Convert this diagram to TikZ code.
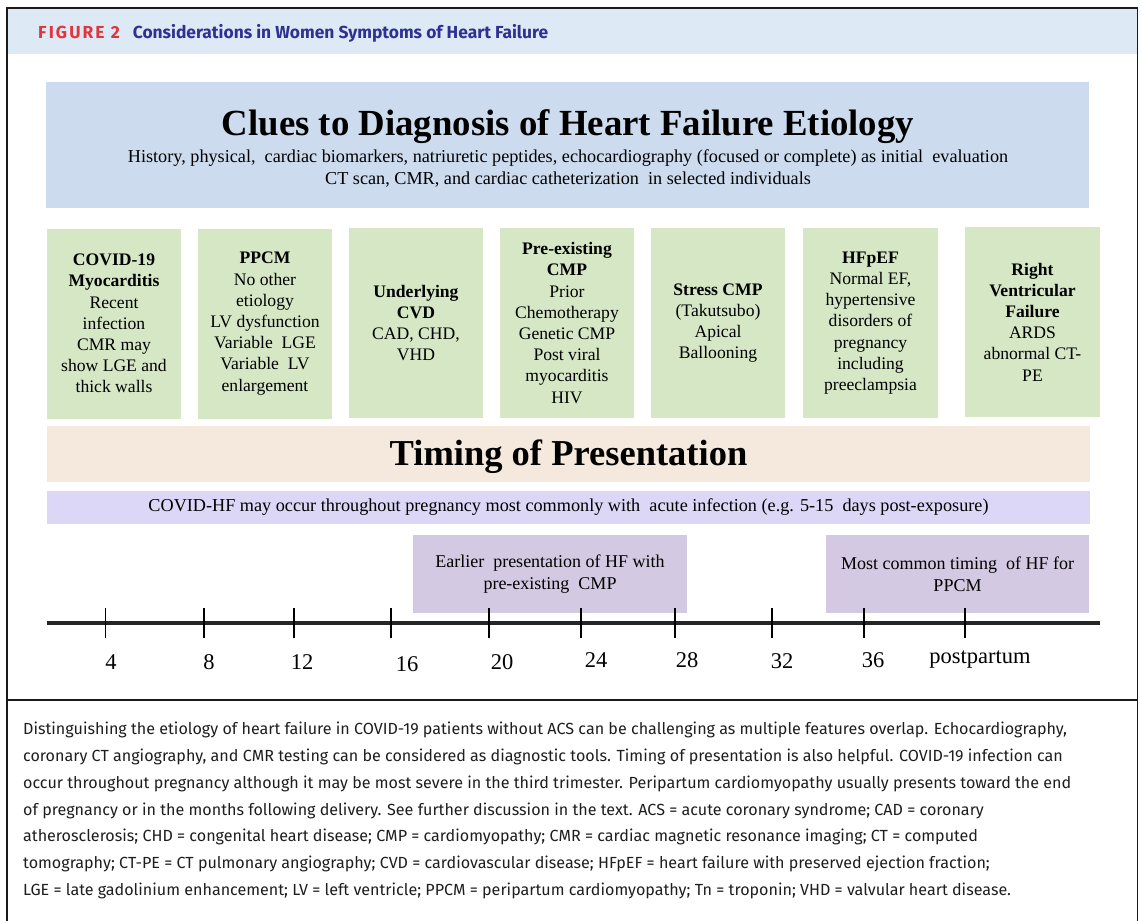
\documentclass[tikz,border=0pt]{standalone}
\usepackage{fontspec}
\setmainfont{Liberation Serif}
\newfontfamily\hdrfont{Fira Sans}
\newfontfamily\capfont{Fira Sans}
\definecolor{hdrblue}{HTML}{DDE9F5}
\definecolor{figred}{HTML}{E2343C}
\definecolor{figblue}{HTML}{2E3192}
\definecolor{cluesblue}{HTML}{CDDBEF}
\definecolor{boxgreen}{HTML}{D5E7C4}
\definecolor{peach}{HTML}{F5E8DC}
\definecolor{lavband}{HTML}{DCD6F7}
\definecolor{lavbox}{HTML}{D3C9E2}
\definecolor{framecol}{HTML}{1A1A1A}
\definecolor{captext}{HTML}{1E1E1E}
\tikzset{
  greenbox/.style={fill=boxgreen, inner sep=0pt, minimum width=134pt, minimum height=190pt, align=center, font=\fontsize{17.6}{21.2}\selectfont},
  lavnode/.style={fill=lavbox, inner sep=0pt, align=center, font=\fontsize{18}{22}\selectfont},
  tick/.style={line width=1.3pt, black},
  ticklabel/.style={font=\fontsize{22.5}{26}\selectfont, inner sep=0pt},
}
\begin{document}
\begin{tikzpicture}[x=1pt,y=-1pt]
\useasboundingbox (0,0) rectangle (1141,921);
\fill[white] (0,0) rectangle (1141,921);
% header band and frame
\fill[hdrblue] (8,9) rectangle (1137,54);
\draw[framecol, line width=1.6pt] (7,921) -- (7,8) -- (1137.5,8) -- (1137.5,921);
\draw[framecol, line width=1.3pt] (7,700) -- (1137.5,700);
\node[anchor=west, inner sep=0pt, font=\hdrfont\bfseries\fontsize{17.4}{20}\selectfont] (header) at (38,33)
  {\textcolor{figred}{\addfontfeature{LetterSpace=12}FIGURE 2}\hspace{13pt}\textcolor{figblue}{Considerations in Women Symptoms of Heart Failure}};
% clues box
\node[fill=cluesblue, inner sep=0pt, minimum width=1043pt, minimum height=126pt, anchor=north west] (clues) at (46,82) {};
\node[inner sep=0pt, font=\bfseries\fontsize{36.8}{42}\selectfont] (cluestitle) at (568,127) {Clues to Diagnosis of Heart Failure Etiology};
\node[inner sep=0pt, font=\fontsize{18.2}{22}\selectfont] (cluessub1) at (568,158) {History, physical, \ cardiac biomarkers, natriuretic peptides, echocardiography (focused or complete) as initial \ evaluation};
\node[inner sep=0pt, font=\fontsize{18.2}{22}\selectfont] (cluessub2) at (568,180) {CT scan, CMR, and cardiac catheterization \ in selected individuals};
% green boxes
\node[greenbox] (b1) at (114,323.5) {\textbf{COVID-19}\\\textbf{Myocarditis}\\Recent\\infection\\CMR may\\show LGE and\\thick walls};
\node[greenbox] (b2) at (265,323.5) {\textbf{PPCM}\\No other\\etiology\\LV dysfunction\\Variable \ LGE\\Variable \ LV\\enlargement};
\node[greenbox] (b3) at (416,323) {\textbf{Underlying}\\\textbf{CVD}\\CAD, CHD,\\VHD};
\node[greenbox] (b4) at (567,323) {\textbf{Pre-existing}\\\textbf{CMP}\\Prior\\Chemotherapy\\Genetic CMP\\Post viral\\myocarditis\\HIV};
\node[greenbox] (b5) at (718,323) {\textbf{Stress CMP}\\(Takutsubo)\\Apical\\Ballooning};
\node[greenbox, minimum width=135pt] (b6) at (870.5,323) {\textbf{HFpEF}\\Normal EF,\\hypertensive\\disorders of\\pregnancy\\including\\preeclampsia};
\node[greenbox, minimum width=135pt] (b7) at (1032.5,322) {\textbf{Right}\\\textbf{Ventricular}\\\textbf{Failure}\\ARDS\\abnormal CT-\\PE};
% timing
\node[fill=peach, inner sep=0pt, minimum width=1043pt, minimum height=56pt] (timing) at (568.5,454) {};
\node[inner sep=0pt, font=\bfseries\fontsize{36.5}{42}\selectfont] (timingtitle) at (568.5,457) {Timing of Presentation};
\node[fill=lavband, inner sep=0pt, minimum width=1043pt, minimum height=33pt, font=\fontsize{18.2}{22}\selectfont] (covidband) at (568.5,507.5) {COVID-HF may occur throughout pregnancy most commonly with \ acute infection (e.g. 5-15 \ days post-exposure)};
\node[lavnode, minimum width=274pt, minimum height=78pt] (earlier) at (550,574) {Earlier \ presentation of HF with\\pre-existing \ CMP};
\node[lavnode, minimum width=263pt, minimum height=78pt] (mostcommon) at (957.5,574) {Most common timing \ of HF for\\PPCM};
% timeline
\coordinate (tlstart) at (47,623);
\coordinate (tlend) at (1100,623);
\draw[line width=3.2pt, black!85] (tlstart) -- (tlend);
\foreach \tx/\lab/\lx/\ly [count=\i] in {105.5/4/111/662, 204/8/209/662, 294/12/302/662, 391/16/407/664, 489/20/502/662, 581/24/596/660, 675/28/687/660, 772/32/782/661, 864/36/873/660, 965/postpartum/980/660}{
  \coordinate (tt\i) at (\tx,608);
  \coordinate (tb\i) at (\tx,638);
  \draw[tick] (tt\i) -- (tb\i);
  \node[ticklabel] (lab\i) at (\lx,\ly) {\lab};
}
% caption
\node[anchor=north west, align=left, inner sep=0pt, text=captext, font=\capfont\fontsize{16.1}{26.8}\selectfont] (caption) at (23,722) {Distinguishing the etiology of heart failure in COVID-19 patients without ACS can be challenging as multiple features overlap. Echocardiography,\\
coronary CT angiography, and CMR testing can be considered as diagnostic tools. Timing of presentation is also helpful. COVID-19 infection can\\
occur throughout pregnancy although it may be most severe in the third trimester. Peripartum cardiomyopathy usually presents toward the end\\
of pregnancy or in the months following delivery. See further discussion in the text. ACS = acute coronary syndrome; CAD = coronary\\
atherosclerosis; CHD = congenital heart disease; CMP = cardiomyopathy; CMR = cardiac magnetic resonance imaging; CT = computed\\
tomography; CT-PE = CT pulmonary angiography; CVD = cardiovascular disease; HFpEF = heart failure with preserved ejection fraction;\\
LGE = late gadolinium enhancement; LV = left ventricle; PPCM = peripartum cardiomyopathy; Tn = troponin; VHD = valvular heart disease.};
\end{tikzpicture}
\end{document}
